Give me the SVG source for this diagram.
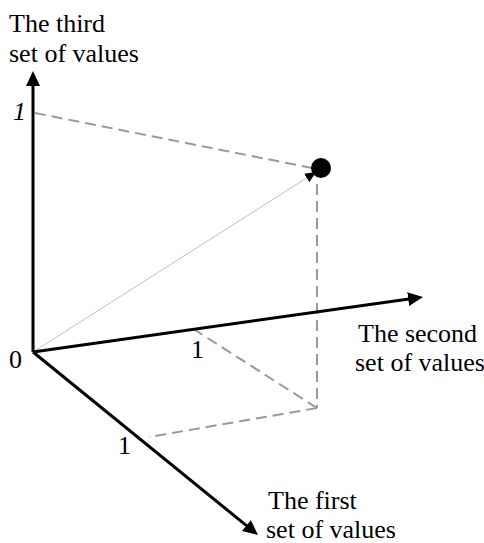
<svg xmlns="http://www.w3.org/2000/svg" width="484" height="543" viewBox="0 0 484 543">
<style>
text{font-family:"Liberation Serif","Times New Roman",serif;font-size:26px;fill:#000}
.axis{stroke:#000;stroke-width:3;fill:none}
.dash{stroke:#999;stroke-width:2;stroke-dasharray:11 6;fill:none}
.thin{stroke:#c0c0c0;stroke-width:1;fill:none}
</style>
<defs>
<marker id="ah" viewBox="0 0 15 14" refX="8" refY="7" markerWidth="15" markerHeight="14" orient="auto" markerUnits="userSpaceOnUse">
<path d="M0,0 L15,7 L0,14 z" fill="#000"/>
</marker>
<marker id="ahs" viewBox="0 0 11 10" refX="6" refY="5" markerWidth="11" markerHeight="10" orient="auto" markerUnits="userSpaceOnUse">
<path d="M0,0 L11,5 L0,10 z" fill="#000"/>
</marker>
</defs>
<rect width="484" height="543" fill="#fff"/>
<g id="connectors">
<line class="dash" x1="35" y1="113" x2="312" y2="168"/>
<line class="dash" x1="317" y1="184" x2="317" y2="408"/>
<line class="dash" x1="317" y1="408" x2="195" y2="330"/>
<line class="dash" x1="317" y1="408" x2="149" y2="437"/>
<line class="thin" x1="33" y1="352" x2="311.8" y2="174.7" marker-end="url(#ahs)"/>
<line class="axis" x1="33" y1="352" x2="33" y2="78" marker-end="url(#ah)"/>
<line class="axis" x1="33" y1="352" x2="416.1" y2="298" marker-end="url(#ah)"/>
<line class="axis" x1="33" y1="352" x2="252.6" y2="530.6" marker-end="url(#ah)"/>
</g>
<g id="point"><circle cx="321" cy="168" r="10" fill="#000"/></g>
<g id="label-third"><text x="9" y="32">The third</text><text x="9" y="62">set of values</text></g>
<g id="label-second"><text x="358" y="342">The second</text><text x="355" y="371">set of values</text></g>
<g id="label-first"><text x="268" y="509">The first</text><text x="266" y="538">set of values</text></g>
<g id="ticks">
<text x="13" y="120" font-style="italic">1</text>
<text x="9" y="368">0</text>
<text x="191" y="358">1</text>
<text x="118" y="454">1</text>
</g>
</svg>
